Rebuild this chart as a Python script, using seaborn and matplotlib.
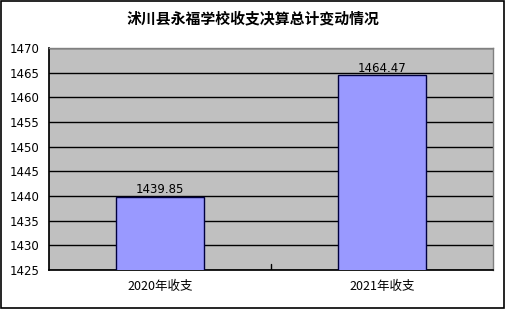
import matplotlib
matplotlib.use("Agg")
import matplotlib.pyplot as plt
import seaborn as sns
import pandas as pd
from matplotlib.patches import Rectangle

categories = ["2020年收支", "2021年收支"]
values = [1439.85, 1464.47]
yticks = [1425, 1430, 1435, 1440, 1445, 1450, 1455, 1460, 1465, 1470]
title = "沭川县永福学校收支决算总计变动情况"

sns.set_theme(style="white")
plt.rcParams['font.family'] = ['Noto Sans CJK SC', 'DejaVu Sans']
plt.rcParams['text.color'] = 'black'
plt.rcParams['xtick.color'] = 'black'
plt.rcParams['ytick.color'] = 'black'

df = pd.DataFrame({"cat": categories, "val": values})

fig = plt.figure(figsize=(5.06, 3.09), dpi=100)
ax = fig.add_axes([49/506, 1-270/309, 444/506, 222/309])
ax.set_facecolor("#c0c0c0")

sns.barplot(data=df, x="cat", y="val", color="#9999ff", saturation=1,
            width=0.4, edgecolor="#000040", linewidth=1, ax=ax, zorder=3)

ax.set_ylim(1425, 1470)
ax.set_yticks(yticks)
ax.set_yticklabels([str(t) for t in yticks], fontsize=8.5, family=["DejaVu Sans"])
ax.set_xlim(-0.5, 1.5)
ax.grid(axis="y", color="black", linewidth=1, zorder=0)
ax.set_axisbelow(True)
ax.tick_params(axis="x", length=0, labelsize=9, pad=7, labelcolor="black")
ax.tick_params(axis="y", length=0, pad=7, labelcolor="black")
ax.set_xlabel("")
ax.set_ylabel("")
for s in ["top", "right"]:
    ax.spines[s].set_color("#808080")
    ax.spines[s].set_linewidth(1)
ax.spines["left"].set_color("black")
ax.spines["bottom"].set_color("black")

# middle category separator tick
ax.plot([0.5, 0.5], [1425, 1426.2], color="black", linewidth=1, zorder=4)

for i, v in enumerate(values):
    ax.text(i, v + 0.05, f"{v:.2f}", ha="center", va="bottom", fontsize=8.5,
            family=["DejaVu Sans"], color="black", zorder=5)

fig.text(0.5, 1-18/309, title, ha="center", va="center", fontsize=10.7,
         fontweight="bold", color="black")

fig.patches.append(Rectangle((0.001, 0.004), 0.996, 0.993, transform=fig.transFigure,
                             fill=False, edgecolor="black", linewidth=1.2))

fig.savefig("out.png", dpi=100)
